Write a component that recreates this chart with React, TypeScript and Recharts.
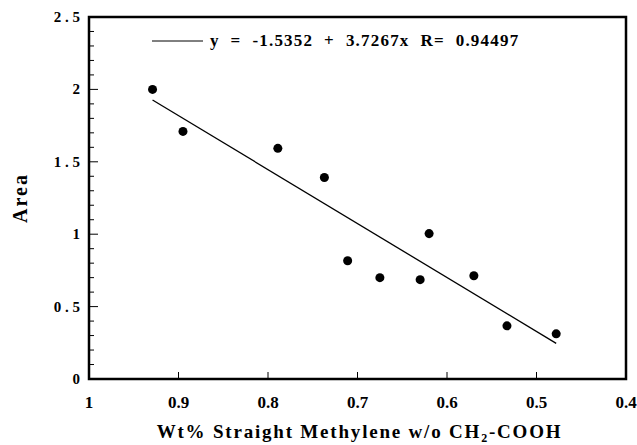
import { ScatterChart, Scatter, XAxis, YAxis, Legend, ReferenceArea, Label } from 'recharts'

// measured points (x = wt% straight methylene, y = area)
const wtStraight = [0.929, 0.895, 0.789, 0.737, 0.711, 0.675, 0.63, 0.62, 0.57, 0.533, 0.478]
const areaValues = [2.0, 1.71, 1.593, 1.392, 0.817, 0.7, 0.686, 1.004, 0.713, 0.367, 0.312]

// fit line as printed on the chart
const fitIntercept = -1.5352
const fitSlope = 3.7267
const fitR = 0.94497

const xTicks = [1, 0.9, 0.8, 0.7, 0.6, 0.5, 0.4]
const xTickLabels = ['1', '0.9', '0.8', '0.7', '0.6', '0.5', '0.4']
const yTicks = [0, 0.1, 0.2, 0.3, 0.4, 0.5, 0.6, 0.7, 0.8, 0.9, 1, 1.1, 1.2, 1.3, 1.4, 1.5, 1.6, 1.7, 1.8, 1.9, 2, 2.1, 2.2, 2.3, 2.4, 2.5]
const yMajorTicks = [0, 0.5, 1, 1.5, 2, 2.5]
const yTickLabels = ['0', '0 . 5', '1', '1 . 5', '2', '2 . 5']

const points = wtStraight.map((x, i) => ({ x, y: areaValues[i] }))
const xMin = Math.min(...wtStraight)
const xMax = Math.max(...wtStraight)
const fitLine = [xMax, xMin].map(x => ({ x, y: fitIntercept + fitSlope * x }))

const FONT = 'Liberation Serif'

const isMajor = (v: number) => yMajorTicks.some(m => Math.abs(m - v) < 1e-6)

function LeftTick(props: any) {
    const { x, y, payload } = props
    const v = payload.value
    const idx = yMajorTicks.findIndex(m => Math.abs(m - v) < 1e-6)
    return (
        <g>
            {v > 0.01 && v < 2.49 && (
                <line x1={x} x2={x + (idx >= 0 ? 9 : 5)} y1={y} y2={y} stroke="#000" strokeWidth={1} />
            )}
            {idx >= 0 && (
                <text x={x - 9} y={y + 5} textAnchor="end" style={{ fontFamily: FONT, fontWeight: 'bold', fontSize: 15, whiteSpace: 'pre' }} fill="#000">
                    {yTickLabels[idx]}
                </text>
            )}
        </g>
    )
}

function RightTick(props: any) {
    const { x, y, payload } = props
    const v = payload.value
    if (v < 0.01 || v > 2.49) return <g />
    return <line x1={x} x2={x - (isMajor(v) ? 8 : 4)} y1={y} y2={y} stroke="#000" strokeWidth={1} />
}

function BottomTick(props: any) {
    const { x, y, payload, index } = props
    const v = payload.value
    return (
        <g>
            {v < 0.99 && v > 0.41 && <line x1={x} x2={x} y1={y} y2={y - 7} stroke="#000" strokeWidth={1} />}
            <text x={x} y={y + 29} textAnchor="middle" style={{ fontFamily: FONT, fontWeight: 'bold', fontSize: 17 }} fill="#000">
                {xTickLabels[index]}
            </text>
        </g>
    )
}

function TopTick(props: any) {
    const { x, y, payload } = props
    const v = payload.value
    if (v > 0.99 || v < 0.41) return <g />
    return <line x1={x} x2={x} y1={y} y2={y + 7} stroke="#000" strokeWidth={1} />
}

function XTitle(props: any) {
    const { viewBox } = props
    const cx = viewBox.x + viewBox.width / 2 + 2
    return (
        <text x={cx} y={viewBox.y + 59} textAnchor="middle" style={{ fontFamily: FONT, fontWeight: 'bold', fontSize: 19, letterSpacing: 1.8 }} fill="#000">
            Wt% Straight Methylene w/o CH<tspan fontSize={12} dy={4}>2</tspan><tspan dy={-4}>-COOH</tspan>
        </text>
    )
}

function YTitle(props: any) {
    const { viewBox } = props
    const cx = viewBox.x + 20
    const cy = viewBox.y + viewBox.height / 2
    return (
        <text x={cx} y={cy} transform={`rotate(-90 ${cx} ${cy})`} dy={7} textAnchor="middle" style={{ fontFamily: FONT, fontWeight: 'bold', fontSize: 20, letterSpacing: 2 }} fill="#000">
            Area
        </text>
    )
}

function FitLegend() {
    return (
        <div style={{ display: 'flex', alignItems: 'center', fontFamily: FONT, fontWeight: 'bold', fontSize: 17, color: '#000' }}>
            <svg width={60} height={10}>
                <line x1={2} x2={53} y1={5} y2={5} stroke="#000" strokeWidth={1} />
            </svg>
            <span style={{ whiteSpace: 'pre', letterSpacing: 1.2 }}>
                {`y  =  ${fitIntercept}  +  ${fitSlope}x  R=  ${fitR}`}
            </span>
        </div>
    )
}

export default function App() {
    return (
        <div style={{ position: 'absolute', left: 0, top: 0, background: '#fff' }}>
            <ScatterChart width={637} height={445} margin={{ top: 17, right: 11, bottom: 0, left: 0 }}>
                <XAxis
                    xAxisId="bottom"
                    dataKey="x"
                    type="number"
                    domain={[0.4, 1]}
                    reversed
                    allowDataOverflow
                    ticks={xTicks}
                    interval={0}
                    height={66}
                    tickSize={0}
                    tickMargin={0}
                    axisLine={false}
                    tickLine={false}
                    tick={BottomTick}
                >
                    <Label content={XTitle} />
                </XAxis>
                <XAxis
                    xAxisId="top"
                    orientation="top"
                    dataKey="x"
                    type="number"
                    domain={[0.4, 1]}
                    reversed
                    allowDataOverflow
                    ticks={xTicks}
                    interval={0}
                    height={0}
                    tickSize={0}
                    tickMargin={0}
                    axisLine={false}
                    tickLine={false}
                    tick={TopTick}
                />
                <YAxis
                    yAxisId="left"
                    dataKey="y"
                    type="number"
                    domain={[0, 2.5]}
                    allowDataOverflow
                    ticks={yTicks}
                    interval={0}
                    width={89}
                    tickSize={0}
                    tickMargin={0}
                    axisLine={false}
                    tickLine={false}
                    tick={LeftTick}
                >
                    <Label content={YTitle} />
                </YAxis>
                <YAxis
                    yAxisId="right"
                    orientation="right"
                    dataKey="y"
                    type="number"
                    domain={[0, 2.5]}
                    allowDataOverflow
                    ticks={yTicks}
                    interval={0}
                    width={0}
                    tickSize={0}
                    tickMargin={0}
                    axisLine={false}
                    tickLine={false}
                    tick={RightTick}
                />
                <ReferenceArea
                    xAxisId="bottom"
                    yAxisId="left"
                    x1={1}
                    x2={0.4}
                    y1={0}
                    y2={2.5}
                    fill="none"
                    stroke="#000"
                    strokeWidth={2.5}
                    fillOpacity={0}
                    ifOverflow="visible"
                />
                <Legend
                    layout="vertical"
                    align="center"
                    verticalAlign="middle"
                    content={FitLegend}
                    wrapperStyle={{ position: 'absolute', top: 31, left: 150, width: 'auto' }}
                />
                <Scatter
                    xAxisId="top"
                    yAxisId="right"
                    data={fitLine}
                    line={{ stroke: '#000', strokeWidth: 1.3 }}
                    shape={() => <g />}
                    legendType="none"
                    isAnimationActive={false}
                />
                <Scatter
                    xAxisId="bottom"
                    yAxisId="left"
                    data={points}
                    fill="#000"
                    isAnimationActive={false}
                />
            </ScatterChart>
        </div>
    )
}
